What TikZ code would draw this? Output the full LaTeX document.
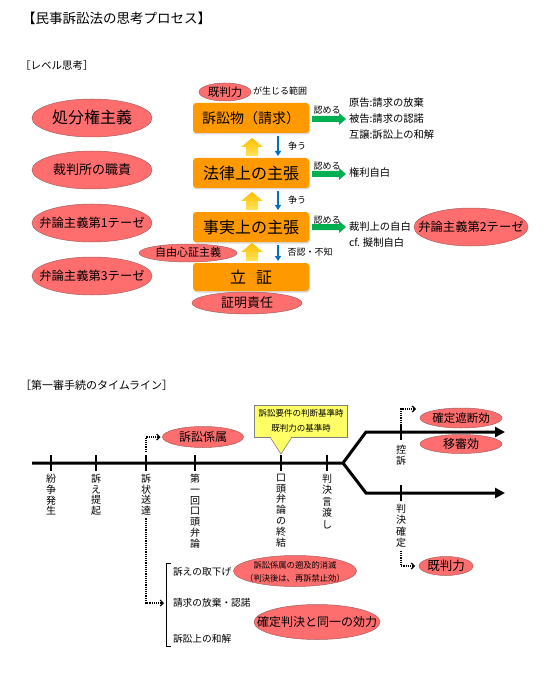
\documentclass[tikz,border=0pt]{standalone}
\usepackage{fontspec}
\setmainfont{Noto Sans CJK JP}
\usetikzlibrary{shapes.geometric,arrows.meta,calc,shadows}
\definecolor{ellred}{RGB}{255,110,110}
\definecolor{ellline}{RGB}{165,95,95}
\definecolor{boxorange}{RGB}{255,153,0}
\definecolor{arrgreen}{RGB}{0,176,80}
\definecolor{arrblue}{RGB}{0,112,192}
\definecolor{callyellow}{RGB}{255,255,102}
\definecolor{upTop}{RGB}{255,190,0}
\definecolor{upBot}{RGB}{255,228,90}
\newcommand{\fsz}[2]{\fontsize{#1pt}{#2pt}\selectfont}
\newcommand{\ellt}[1]{\makebox[0pt]{\raisebox{-0.36em}[0pt][0pt]{#1}}}
\tikzset{
  uparr/.pic={\shade[top color=upTop, bottom color=upBot] (-6,0) -- (-6,-9) -- (-11,-9) -- (0,-18) -- (11,-9) -- (6,-9) -- (6,0) -- cycle;},
  grarr/.pic={\fill[arrgreen] (0,-3) -- (27,-3) -- (27,-6) -- (34,0) -- (27,6) -- (27,3) -- (0,3) -- cycle;}
}
\begin{document}
\begin{tikzpicture}[x=1pt,y=-1pt,
  every node/.style={inner sep=0pt, outer sep=0pt},
  ell/.style={ellipse, fill=ellred, draw=ellline, line width=0.5pt},
  obox/.style={rectangle, rounded corners=3pt, fill=boxorange, minimum width=116pt, minimum height=30pt,
    drop shadow={shadow xshift=1pt, shadow yshift=-1.5pt, opacity=0.3}},
  lbl/.style={font=\fsz{9}{11}},
  side/.style={font=\fsz{10.3}{12}, anchor=west},
  vtext/.style={anchor=north, align=center, font=\fsz{10}{10.8}},
  tline/.style={line width=3pt, -{Triangle[length=10pt,width=10pt]}},
  tick/.style={line width=1.8pt},
  dotarr/.style={densely dotted, line width=1.2pt, -{Straight Barb[length=3pt,width=6pt]}},
  bluearr/.style={arrblue, line width=2.2pt, -{Triangle[length=5pt,width=6pt]}},
  callbox/.style={rectangle, fill=callyellow, draw=gray, line width=0.6pt, minimum width=93pt, minimum height=32pt, align=center, font=\fsz{8.5}{15}},
]
\useasboundingbox (0,0) rectangle (548,676);

% headings
\node[anchor=west, font=\fsz{13.5}{16}] (title) at (22,18) {【民事訴訟法の思考プロセス】};
\node[anchor=west, font=\fsz{10.5}{13}] (h1) at (20,66) {［レベル思考］};
\node[anchor=west, font=\fsz{11}{13}] (h2) at (20,385) {［第一審手続のタイムライン］};

% left ellipses
\node[ell, minimum width=120pt, minimum height=38pt, font=\fsz{16}{18}] (e1) at (92,118) {\ellt{処分権主義}};
\node[ell, minimum width=120pt, minimum height=38pt, font=\fsz{13}{15}] (e2) at (92,170) {\ellt{裁判所の職責}};
\node[ell, minimum width=120pt, minimum height=38pt, font=\fsz{12.3}{14}] (e3) at (92,223) {\ellt{弁論主義第1テーゼ}};
\node[ell, minimum width=120pt, minimum height=38pt, font=\fsz{12.3}{14}] (e4) at (92,276) {\ellt{弁論主義第3テーゼ}};

% central boxes
\node[obox, font=\fsz{14}{16}] (b1) at (251,118) {訴訟物（請求）};
\node[obox, font=\fsz{16}{18}] (b2) at (251,173) {法律上の主張};
\node[obox, font=\fsz{16}{18}] (b3) at (251,227) {事実上の主張};
\node[obox, minimum height=28pt, font=\fsz{16}{18}] (b4) at (251,277) {立\hspace{10pt}証};

% small ellipses around the column
\node[ell, minimum width=52pt, minimum height=18pt, font=\fsz{11.5}{13}] (kt) at (225,92) {\ellt{既判力}};
\node[lbl, anchor=west] (kttx) at (253,91) {が生じる範囲};
\node[ell, minimum width=98pt, minimum height=18pt, font=\fsz{11}{13}] (jy) at (188,253) {\ellt{自由心証主義}};
\node[ell, minimum width=110pt, minimum height=22pt, font=\fsz{13}{15}] (sm) at (247,303) {\ellt{証明責任}};

% up arrows
\pic at ($(b2.north)+(1,-2)$) {uparr};
\pic at ($(b3.north)+(1,-2)$) {uparr};
\pic at ($(b4.north)+(1,-2)$) {uparr};

% blue arrows
\draw[bluearr] ($(b1.south)+(27,3)$) -- ($(b2.north)+(27,-2)$);
\draw[bluearr] ($(b2.south)+(27,3)$) -- ($(b3.north)+(27,-2)$);
\draw[bluearr] ($(b3.south)+(27,3)$) -- ($(b4.north)+(27,-2)$);
\node[lbl] (a1) at (297,146) {争う};
\node[lbl] (a2) at (297,200) {争う};
\node[lbl] (a3) at (310,252) {否認・不知};

% green arrows
\pic at ($(b1.east)+(3,1)$) {grarr};
\pic at ($(b2.east)+(3,1)$) {grarr};
\pic at ($(b3.east)+(3,0)$) {grarr};
\node[lbl] (g1) at (327,110) {認める};
\node[lbl] (g2) at (327,166) {認める};
\node[lbl] (g3) at (327,220) {認める};

% right texts
\node[side] (r1) at (349,103) {原告:請求の放棄};
\node[side] (r2) at (349,119) {被告:請求の認諾};
\node[side] (r3) at (349,135) {互譲:訴訟上の和解};
\node[side] (r4) at (349,173) {権利自白};
\node[side] (r5) at (349,227) {裁判上の自白};
\node[side] (r6) at (349,243) {cf. 擬制自白};
\node[ell, minimum width=114pt, minimum height=38pt, font=\fsz{12.3}{14}] (e5) at (471,227) {\ellt{弁論主義第2テーゼ}};

% timeline
\coordinate (t0) at (32,463);
\coordinate (tj) at (343,463);
\coordinate (tu) at (366,432);
\coordinate (tue) at (505,432);
\coordinate (tl) at (366,493);
\coordinate (tle) at (505,493);
\draw[tline] (t0) -- (tj) -- (tu) -- (tue);
\draw[tline] (tj) -- (tl) -- (tle);

\coordinate (k1) at (51,463);
\coordinate (k2) at (96,463);
\coordinate (k3) at (146,463);
\coordinate (k4) at (195,463);
\coordinate (k5) at (281,463);
\coordinate (k6) at (327,463);
\coordinate (k7) at (401,432);
\coordinate (k8) at (401,493);
\foreach \k in {k1,k2,k3,k4,k5,k6,k7,k8}
  \draw[tick] ($(\k)+(0,-8)$) -- ($(\k)+(0,8)$);

\node[vtext] (v1) at (51,474) {紛\\争\\発\\生};
\node[vtext] (v2) at (96,474) {訴\\え\\提\\起};
\node[vtext] (v3) at (146,474) {訴\\状\\送\\達};
\node[vtext] (v4) at (195,474) {第\\一\\回\\口\\頭\\弁\\論};
\node[vtext] (v5) at (281,474) {口\\頭\\弁\\論\\の\\終\\結};
\node[vtext, font=\fsz{10}{11.5}] (v6) at (327,474) {判\\決\\言\\渡\\し};
\node[vtext] (v7) at (401,445) {控\\訴};
\node[vtext, font=\fsz{10}{11.5}] (v8) at (401,504) {判\\決\\確\\定};

% effects
\node[ell, minimum width=81pt, minimum height=21pt, font=\fsz{12}{14}] (kz) at (203,437) {\ellt{訴訟係属}};
\draw[dotarr, shorten >=2pt] ($(k3)+(0,-11)$) |- (kz.west);

\node[callbox] (cb) at (301,421) {訴訟要件の判断基準時\\既判力の基準時};
\coordinate (ptr) at ($(k5)+(0,-9)$);
\fill[callyellow] ($(cb.south)+(-31,-0.7)$) -- (ptr) -- ($(cb.south)+(-9,-0.7)$) -- cycle;
\draw[gray, line width=0.6pt] ($(cb.south)+(-31,0)$) -- (ptr) -- ($(cb.south)+(-9,0)$);

\node[ell, minimum width=82pt, minimum height=20pt, font=\fsz{11.5}{13}] (ks) at (461,418) {\ellt{確定遮断効}};
\node[ell, minimum width=82pt, minimum height=19pt, font=\fsz{12}{14}] (is) at (461,444) {\ellt{移審効}};
\node[ell, minimum width=54pt, minimum height=19pt, font=\fsz{12.5}{14}] (kb) at (446,566) {\ellt{既判力}};
\coordinate (kpa) at (416,409);
\draw[dotarr] ($(k7)+(0,-9)$) |- (kpa);
\coordinate (kba) at ($(kb.west)+(-4,0)$);
\draw[dotarr] ($(v8.south)+(0,3)$) |- (kba);

% bracket and withdrawal list
\coordinate (br1) at (171,563);
\coordinate (br2) at (171,646);
\coordinate (brm) at (164,603);
\draw[line width=0.8pt] (br1) -- ++(-5,0) |- (br2);
\draw[dotarr] ($(v3.south)+(0,3)$) |- (brm);
\node[anchor=west, font=\fsz{9.7}{12}] (w1) at (173,572) {訴えの取下げ};
\node[anchor=west, font=\fsz{9.7}{12}] (w2) at (173,603) {請求の放棄・認諾};
\node[anchor=west, font=\fsz{9.7}{12}] (w3) at (173,639) {訴訟上の和解};
\node[ell, minimum width=123pt, minimum height=31pt, font=\fsz{8.3}{13}] (ss) at (295,571) {\ellt{\begin{tabular}{@{}c@{}}訴訟係属の遡及的消滅\\（判決後は、再訴禁止効）\end{tabular}}};
\node[ell, minimum width=126pt, minimum height=35pt, font=\fsz{12}{14}] (kd) at (317,622) {\ellt{確定判決と同一の効力}};
\end{tikzpicture}
\end{document}
